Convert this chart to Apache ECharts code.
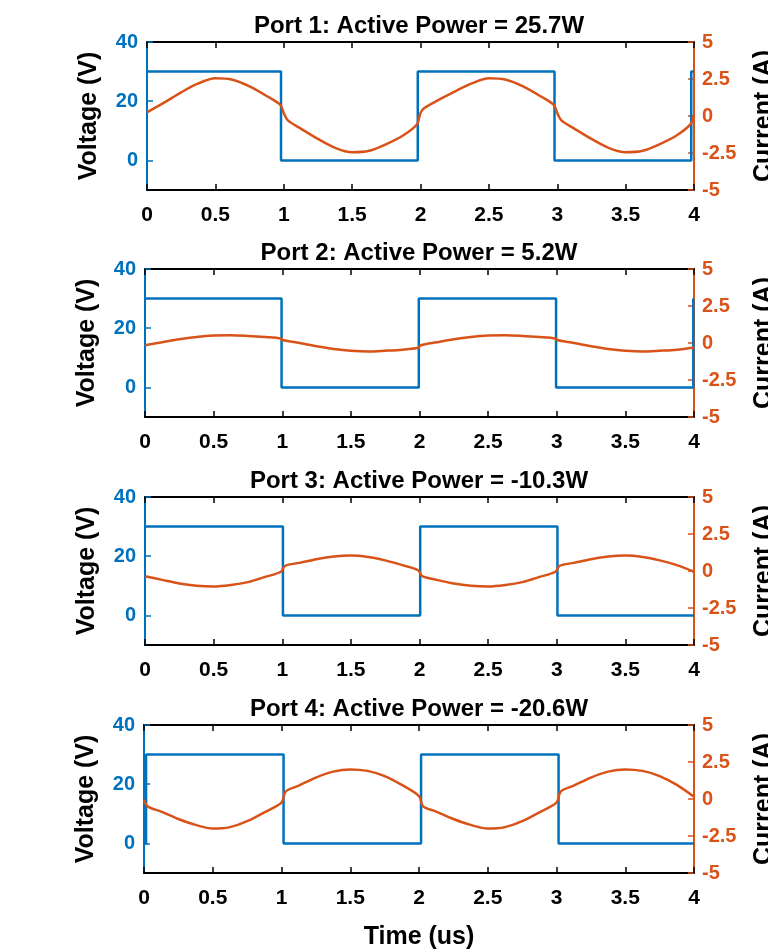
<!DOCTYPE html>
<html>
<head>
<meta charset="utf-8">
<script src="https://cdn.jsdelivr.net/npm/echarts@6/dist/echarts.min.js"></script>
<style>
  html, body { margin: 0; padding: 0; background: #fff; }
  #charts_main { width: 768px; height: 952px; }
</style>
</head>
<body>
<div id="charts_main"></div>
<script>
// titles
const portTitles = [
  'Port 1: Active Power = 25.7W',
  'Port 2: Active Power = 5.2W',
  'Port 3: Active Power = -10.3W',
  'Port 4: Active Power = -20.6W'
];

// voltage square waves (time in us, volts)
const volt1T = [0, 0.98, 0.98, 1.98, 1.98, 2.98, 2.98, 3.98, 3.98, 4];
const volt1V = [30, 30, 0, 0, 30, 30, 0, 0, 30, 30];
const volt2T = [0, 0.995, 0.995, 1.995, 1.995, 2.995, 2.995, 3.995, 3.995, 4];
const volt2V = [30, 30, 0, 0, 30, 30, 0, 0, 30, 30];
const volt3T = [0, 1.005, 1.005, 2.005, 2.005, 3.005, 3.005, 4];
const volt3V = [30, 30, 0, 0, 30, 30, 0, 0];
const volt4T = [0, 0.015, 0.015, 1.015, 1.015, 2.015, 2.015, 3.015, 3.015, 4];
const volt4V = [0, 0, 30, 30, 0, 0, 30, 30, 0, 0];

// currents (A)
const cur1T = [0, 0.125, 0.25, 0.375, 0.5, 0.625, 0.75, 0.875, 0.975, 1.0, 1.03, 1.125, 1.25, 1.375, 1.5, 1.625, 1.75, 1.875, 1.975,
  2.0, 2.03, 2.125, 2.25, 2.375, 2.5, 2.625, 2.75, 2.875, 2.975, 3.0, 3.03, 3.125, 3.25, 3.375, 3.5, 3.625, 3.75, 3.875, 3.975, 4.0];
const cur1I = [0.25, 0.9, 1.6, 2.2, 2.55, 2.45, 2.0, 1.35, 0.75, 0.2, -0.3, -0.85, -1.55, -2.15, -2.45, -2.35, -1.9, -1.3, -0.55,
  0.2, 0.55, 1.05, 1.65, 2.2, 2.55, 2.45, 2.0, 1.35, 0.75, 0.2, -0.3, -0.85, -1.55, -2.15, -2.45, -2.35, -1.9, -1.3, -0.55, 0.1];

const cur2T = [0, 0.125, 0.25, 0.375, 0.5, 0.625, 0.75, 0.875, 0.99, 1.01, 1.125, 1.25, 1.375, 1.5, 1.625, 1.75, 1.875, 1.99,
  2.01, 2.125, 2.25, 2.375, 2.5, 2.625, 2.75, 2.875, 2.99, 3.01, 3.125, 3.25, 3.375, 3.5, 3.625, 3.75, 3.875, 4.0];
const cur2I = [-0.15, 0.05, 0.25, 0.4, 0.5, 0.53, 0.48, 0.4, 0.3, 0.18, 0.0, -0.22, -0.4, -0.52, -0.57, -0.52, -0.45, -0.32,
  -0.15, 0.05, 0.25, 0.4, 0.5, 0.53, 0.48, 0.4, 0.3, 0.18, 0.0, -0.22, -0.4, -0.52, -0.57, -0.52, -0.45, -0.3];

const cur3T = [0, 0.125, 0.25, 0.375, 0.5, 0.625, 0.75, 0.875, 0.99, 1.02, 1.125, 1.25, 1.375, 1.5, 1.625, 1.75, 1.875, 1.99,
  2.02, 2.125, 2.25, 2.375, 2.5, 2.625, 2.75, 2.875, 2.99, 3.02, 3.125, 3.25, 3.375, 3.5, 3.625, 3.75, 3.875, 4.0];
const cur3I = [-0.35, -0.6, -0.85, -1.0, -1.05, -0.95, -0.75, -0.4, -0.05, 0.35, 0.55, 0.8, 0.98, 1.05, 0.95, 0.72, 0.4, 0.05,
  -0.35, -0.6, -0.85, -1.0, -1.05, -0.95, -0.75, -0.4, -0.05, 0.35, 0.55, 0.8, 0.98, 1.05, 0.95, 0.72, 0.4, -0.05];

const cur4T = [0, 0.025, 0.125, 0.25, 0.375, 0.5, 0.625, 0.75, 0.875, 1.0, 1.03, 1.125, 1.25, 1.375, 1.5, 1.625, 1.75, 1.875,
  2.0, 2.03, 2.125, 2.25, 2.375, 2.5, 2.625, 2.75, 2.875, 3.0, 3.03, 3.125, 3.25, 3.375, 3.5, 3.625, 3.75, 3.875, 4.0];
const cur4I = [-0.05, -0.5, -0.85, -1.35, -1.75, -2.0, -1.9, -1.5, -0.9, -0.25, 0.5, 0.9, 1.45, 1.85, 2.0, 1.9, 1.55, 0.95,
  0.2, -0.5, -0.85, -1.35, -1.75, -2.0, -1.9, -1.5, -0.9, -0.25, 0.5, 0.9, 1.45, 1.85, 2.0, 1.9, 1.55, 0.95, 0.15];

const voltTicks = [0, 20, 40];

const voltSets = [[volt1T, volt1V], [volt2T, volt2V], [volt3T, volt3V], [volt4T, volt4V]];
const curSets = [[cur1T, cur1I], [cur2T, cur2I], [cur3T, cur3I], [cur4T, cur4I]];

const BLUE = '#0072BD';
const ORANGE = '#D95319';
const FONT = 'Liberation Sans';

const gridTops = [42, 269, 497, 725];
const gridLefts = [147, 145, 145, 144];
const gridH = 148;
const gridRight = 768 - 694;

function zip(a, b) {
  return a.map((v, i) => [v, b[i]]);
}

function init() {
  let Chart = echarts.init(document.getElementById('charts_main'), null, {renderer: 'canvas'});

  let grid = [], xAxis = [], yAxis = [], series = [], title = [];

  for (let k = 0; k < 4; k++) {
    grid.push({
      left: gridLefts[k], right: gridRight, top: gridTops[k], height: gridH,
      containLabel: false, outerBoundsMode: 'none'
    });
    title.push({
      text: portTitles[k],
      left: 414, top: gridTops[k] - 33, textAlign: 'center',
      textStyle: {fontFamily: FONT, fontWeight: 'bold', fontSize: 24, color: '#000'}
    });
    // bottom time axis
    xAxis.push({
      type: 'value', gridIndex: k, min: 0, max: 4, interval: 0.5, position: 'bottom',
      name: k === 3 ? 'Time (us)' : '', nameLocation: 'middle', nameGap: 52,
      nameTextStyle: {fontFamily: FONT, fontWeight: 'bold', fontSize: 25, color: '#000'},
      axisLine: {show: true, onZero: false, lineStyle: {color: '#000', width: 2}},
      axisTick: {show: true, inside: true, length: 6, lineStyle: {color: '#000', width: 1.5}},
      axisLabel: {fontFamily: FONT, fontWeight: 'bold', fontSize: 21, color: '#000', margin: 15},
      splitLine: {show: false}
    });
    // top frame axis
    xAxis.push({
      type: 'value', gridIndex: k, min: 0, max: 4, interval: 0.5, position: 'top',
      axisLine: {show: true, onZero: false, lineStyle: {color: '#000', width: 2}},
      axisTick: {show: true, inside: true, length: 6, lineStyle: {color: '#000', width: 1.5}},
      axisLabel: {show: false},
      splitLine: {show: false}
    });
    // voltage axis
    yAxis.push({
      type: 'value', gridIndex: k, min: -10, max: 40, position: 'left',
      name: 'Voltage (V)', nameLocation: 'middle', nameGap: 45, nameRotate: 90,
      nameTextStyle: {fontFamily: FONT, fontWeight: 'bold', fontSize: 25, color: '#000'},
      axisLine: {show: true, onZero: false, lineStyle: {color: BLUE, width: 2}},
      axisTick: {show: true, inside: true, length: 6, customValues: voltTicks, lineStyle: {color: BLUE, width: 1.5}},
      axisLabel: {fontFamily: FONT, fontWeight: 'bold', fontSize: 20, color: BLUE, margin: 9, customValues: voltTicks},
      splitLine: {show: false}
    });
    // current axis
    yAxis.push({
      type: 'value', gridIndex: k, min: -5, max: 5, interval: 2.5, position: 'right',
      name: 'Current (A)', nameLocation: 'middle', nameGap: 58, nameRotate: 90,
      nameTextStyle: {fontFamily: FONT, fontWeight: 'bold', fontSize: 25, color: '#000'},
      axisLine: {show: true, onZero: false, lineStyle: {color: ORANGE, width: 2}},
      axisTick: {show: true, inside: true, length: 6, lineStyle: {color: ORANGE, width: 1.5}},
      axisLabel: {fontFamily: FONT, fontWeight: 'bold', fontSize: 20, color: ORANGE, margin: 8},
      splitLine: {show: false}
    });

    series.push({
      name: 'Voltage ' + (k + 1), type: 'line', xAxisIndex: 2 * k, yAxisIndex: 2 * k,
      data: zip(voltSets[k][0], voltSets[k][1]), showSymbol: false, symbol: 'none',
      lineStyle: {color: BLUE, width: 2.5}, z: 2
    });
    series.push({
      name: 'Current ' + (k + 1), type: 'line', xAxisIndex: 2 * k, yAxisIndex: 2 * k + 1,
      data: zip(curSets[k][0], curSets[k][1]), showSymbol: false, symbol: 'none',
      smooth: 0.3,
      lineStyle: {color: ORANGE, width: 2.5}, z: 3
    });
  }

  let option = {
    animation: false,
    backgroundColor: '#fff',
    title: title,
    grid: grid,
    xAxis: xAxis,
    yAxis: yAxis,
    series: series
  };
  Chart.setOption(option);
}

init();
</script>
</body>
</html>
